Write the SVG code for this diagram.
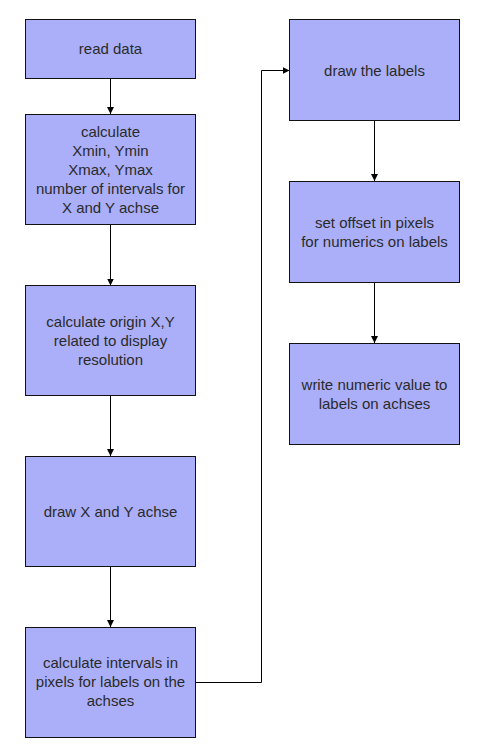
<svg xmlns="http://www.w3.org/2000/svg" width="481" height="747" viewBox="0 0 481 747">
<defs>
<style>
.box{fill:#abaffa;stroke:#111;stroke-width:1}
.t{font-family:"Liberation Sans",Arial,sans-serif;font-size:15px;fill:#2a2a2a;text-anchor:middle}
.c{fill:none;stroke:#000;stroke-width:1}
</style>
<marker id="ah" markerWidth="8" markerHeight="8" refX="7" refY="4" orient="auto" markerUnits="userSpaceOnUse">
<path d="M0,0.5 L7,4 L0,7.5 Z" fill="#000"/>
</marker>
</defs>
<rect width="481" height="747" fill="#fff"/>
<g id="connectors">
<line class="c" x1="110.5" y1="79" x2="110.5" y2="114" marker-end="url(#ah)"/>
<line class="c" x1="110.5" y1="225" x2="110.5" y2="285.5" marker-end="url(#ah)"/>
<line class="c" x1="110.5" y1="396" x2="110.5" y2="456" marker-end="url(#ah)"/>
<line class="c" x1="110.5" y1="567" x2="110.5" y2="627" marker-end="url(#ah)"/>
<polyline class="c" points="195.5,682.5 261.5,682.5 261.5,70.5 289.5,70.5" marker-end="url(#ah)"/>
<line class="c" x1="374.5" y1="121" x2="374.5" y2="181" marker-end="url(#ah)"/>
<line class="c" x1="374.5" y1="283" x2="374.5" y2="343" marker-end="url(#ah)"/>
</g>
<g id="n1"><rect class="box" x="25.5" y="19.5" width="170" height="59"/><text class="t" x="110.5" y="54">read data</text></g>
<g id="n2"><rect class="box" x="25.5" y="114.5" width="170" height="110"/>
<text class="t" x="110.5" y="137">calculate</text>
<text class="t" x="110.5" y="156">Xmin, Ymin</text>
<text class="t" x="110.5" y="175">Xmax, Ymax</text>
<text class="t" x="110.5" y="194">number of intervals for</text>
<text class="t" x="110.5" y="213">X and Y achse</text></g>
<g id="n3"><rect class="box" x="25.5" y="285.5" width="170" height="110"/>
<text class="t" x="110.5" y="327">calculate origin X,Y</text>
<text class="t" x="110.5" y="346">related to display</text>
<text class="t" x="110.5" y="365">resolution</text></g>
<g id="n4"><rect class="box" x="25.5" y="456.5" width="170" height="110"/>
<text class="t" x="110.5" y="516.5">draw X and Y achse</text></g>
<g id="n5"><rect class="box" x="25.5" y="627.5" width="170" height="110"/>
<text class="t" x="110.5" y="668">calculate intervals in</text>
<text class="t" x="110.5" y="687">pixels for labels on the</text>
<text class="t" x="110.5" y="706">achses</text></g>
<g id="n6"><rect class="box" x="289.5" y="19.5" width="170" height="101"/>
<text class="t" x="374.5" y="76">draw the labels</text></g>
<g id="n7"><rect class="box" x="289.5" y="181.5" width="170" height="101"/>
<text class="t" x="374.5" y="228">set offset in pixels</text>
<text class="t" x="374.5" y="247">for numerics on labels</text></g>
<g id="n8"><rect class="box" x="289.5" y="343.5" width="170" height="101"/>
<text class="t" x="374.5" y="390">write numeric value to</text>
<text class="t" x="374.5" y="409">labels on achses</text></g>
</svg>
